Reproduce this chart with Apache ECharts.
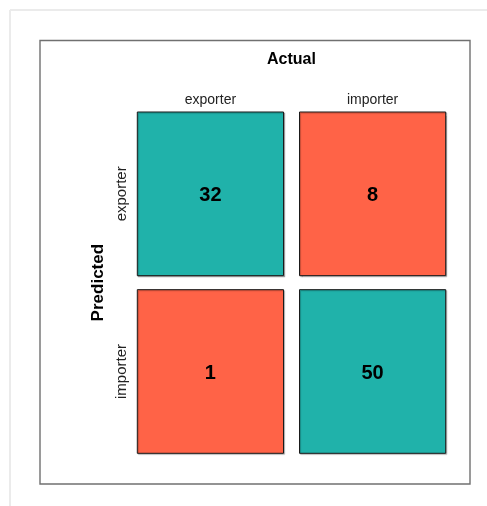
<!DOCTYPE html>
<html>
<head>
<meta charset="utf-8">
<style>
  html, body { margin: 0; padding: 0; background: #fff; }
  #chart { width: 487px; height: 506px; }
</style>
<script src="https://cdn.jsdelivr.net/npm/echarts@6/dist/echarts.min.js"></script>
</head>
<body>
<div id="chart"></div>
<script>
// Data
const actualLabels = ['exporter', 'importer'];
const predictedLabels = ['exporter', 'importer'];
// [actualIndex, predictedIndex, count]
const counts = [
  [0, 0, 32],
  [1, 0, 8],
  [0, 1, 1],
  [1, 1, 50]
];
const correctColor = '#20B2AA';
const wrongColor = '#FF6347';

const FONT = '"Liberation Sans", Arial, sans-serif';
const chart = echarts.init(document.getElementById('chart'), null, { renderer: 'canvas' });

function renderItem(params, api) {
  const xi = api.value(0), yi = api.value(1), v = api.value(2);
  const c = api.coord([xi, yi]);
  const s = api.size([1, 1]);
  const w = s[0] - 16, h = s[1] - 14;
  return {
    type: 'group',
    children: [
      {
        type: 'rect',
        shape: { x: c[0] - w / 2, y: c[1] - h / 2, width: w, height: h },
        style: {
          fill: xi === yi ? correctColor : wrongColor,
          stroke: '#1a1a1a',
          lineWidth: 1,
          shadowColor: 'rgba(0,0,0,0.25)',
          shadowOffsetX: 1,
          shadowOffsetY: 1,
          shadowBlur: 1
        }
      },
      {
        type: 'text',
        style: {
          text: String(v),
          x: c[0],
          y: c[1] + 2,
          align: 'center',
          verticalAlign: 'middle',
          fontFamily: FONT,
          fontWeight: 'bold',
          fontSize: 20,
          fill: '#000'
        }
      }
    ]
  };
}

const option = {
  animation: false,
  backgroundColor: '#fff',
  graphic: [
    { type: 'line', shape: { x1: 10, y1: 10, x2: 487, y2: 10 }, style: { stroke: '#ebebeb', lineWidth: 2 }, silent: true },
    { type: 'line', shape: { x1: 10, y1: 10, x2: 10, y2: 506 }, style: { stroke: '#ebebeb', lineWidth: 2 }, silent: true },
    { type: 'rect', shape: { x: 40, y: 40.5, width: 430, height: 443.5 }, style: { fill: 'none', stroke: '#707070', lineWidth: 1.4 }, silent: true }
  ],
  grid: { left: 129.3, top: 105, width: 324.4, height: 355.3 },
  xAxis: {
    type: 'category',
    data: actualLabels,
    position: 'top',
    name: 'Actual',
    nameLocation: 'middle',
    nameGap: 37,
    nameTextStyle: { fontFamily: FONT, fontWeight: 'bold', fontSize: 16, color: '#000' },
    axisLine: { show: false },
    axisTick: { show: false },
    splitLine: { show: false },
    axisLabel: { fontFamily: FONT, fontSize: 14, color: '#222', margin: -2 }
  },
  yAxis: {
    type: 'category',
    data: predictedLabels,
    inverse: true,
    name: 'Predicted',
    nameLocation: 'middle',
    nameRotate: 90,
    nameGap: 21,
    nameTextStyle: { fontFamily: FONT, fontWeight: 'bold', fontSize: 17, color: '#000' },
    axisLine: { show: false },
    axisTick: { show: false },
    splitLine: { show: false },
    axisLabel: { fontFamily: FONT, fontSize: 15, color: '#222', rotate: 90, margin: 0 }
  },
  series: [{
    type: 'custom',
    renderItem: renderItem,
    data: counts,
    encode: { x: 0, y: 1 }
  }]
};
chart.setOption(option);
</script>
</body>
</html>
